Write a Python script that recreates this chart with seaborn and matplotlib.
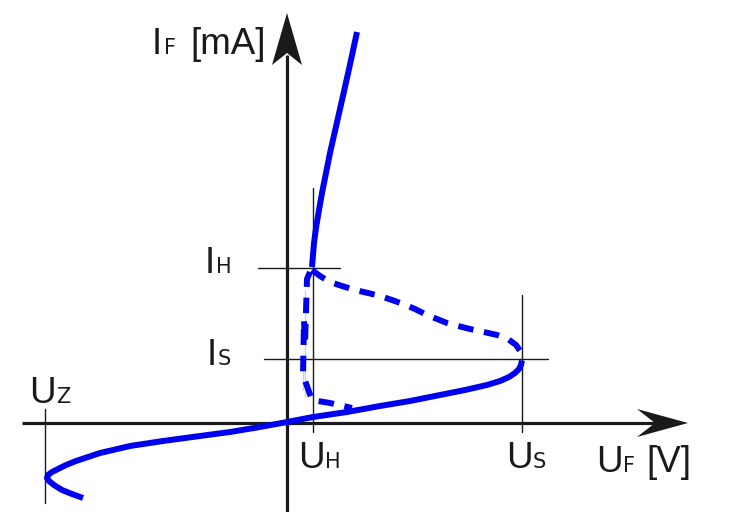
import numpy as np
import pandas as pd
import seaborn as sns
import matplotlib.pyplot as plt

# ---- data (U: voltage axis units, I: current axis units; origin at axis crossing) ----
lower_U = [-204, -215, -225, -233, -238, -240, -239, -235, -229, -221, -211, -199, -187,
           -174, -157, -124, -87, -57, -27, 0, 26, 60, 93, 123, 153, 178, 200, 213, 222,
           228, 232, 234, 235, 235]
lower_I = [-75, -71, -67, -62, -58, -55, -52, -49, -46, -42, -38, -34, -30,
           -27, -23, -18, -13, -9, -4, 1, 6, 11, 17, 22, 28, 33, 38, 42, 46,
           50, 54, 58, 61, 64]

upper_U = [25, 26, 27, 29, 32, 35, 39, 43, 48, 53, 58, 64, 70]
upper_I = [156, 168, 180, 195, 213, 230, 250, 270, 292, 314, 336, 363, 391]

dash_top_U = [25, 33, 43, 55, 68, 81, 93, 105, 116, 128, 140, 150, 160, 171, 183, 197,
              210, 221, 229, 234, 236]
dash_top_I = [153, 147, 141, 137, 133, 130, 127, 123, 119, 114, 108, 104, 100, 97, 94, 91,
              88, 84, 78, 71, 65]

dash_left_U = [23, 20, 18, 17, 16, 16, 18, 25, 43, 65]
dash_left_I = [151, 144, 133, 103, 63, 33, 26, 23, 20, 15]

U_H, U_S, U_Z = 26, 235, -242
I_H, I_S = 155, 64

BLUE = "#0000f0"

sns.set_theme(style="white")
plt.rcParams["font.family"] = ["Liberation Sans", "DejaVu Sans"]

fig = plt.figure(figsize=(7.31, 5.12), dpi=100)
ax = fig.add_axes([0, 0, 1, 1])
ax.set_xlim(-287, 444)
ax.set_ylim(-89, 423)
ax.axis("off")

# ---- axes with notched arrow heads ----
X_START, X_TIP = -265, 401
Y_START, Y_TIP = -89, 410
ax.plot([X_START, X_TIP - 31], [0, 0], color="k", lw=2.3, solid_capstyle="butt")
ax.plot([0, 0], [Y_START, Y_TIP - 42], color="k", lw=2.3, solid_capstyle="butt")
ax.fill([X_TIP, X_TIP - 51, X_TIP - 33, X_TIP - 51], [0, 14, 0, -14], color="k", lw=0)
ax.fill([0, -15, 0, 15], [Y_TIP, Y_TIP - 52, Y_TIP - 40, Y_TIP - 52], color="k", lw=0)

# ---- reference (tick) lines ----
thin = dict(color="k", lw=1.0)
ax.plot([U_H, U_H], [-9, 235], **thin)
ax.plot([-29, 53], [I_H, I_H], **thin)
ax.plot([U_S, U_S], [-9, 128], **thin)
ax.plot([-23, 261], [I_S, I_S], **thin)
ax.plot([U_Z, U_Z], [-80, 14], **thin)

# ---- characteristic curves ----
lw = 4.3
sns.lineplot(x=lower_U, y=lower_I, sort=False, ax=ax, color=BLUE, lw=lw,
             solid_capstyle="butt", solid_joinstyle="round")
sns.lineplot(x=upper_U, y=upper_I, sort=False, ax=ax, color=BLUE, lw=lw,
             solid_capstyle="butt", solid_joinstyle="round")
sns.lineplot(x=dash_top_U, y=dash_top_I, sort=False, ax=ax, color=BLUE, lw=lw,
             linestyle=(0, (2.6, 1.8)))
sns.lineplot(x=dash_left_U, y=dash_left_I, sort=False, ax=ax, color=BLUE, lw=lw,
             linestyle=(0, (2.6, 1.8)))

# ---- labels ----
BIG, SMALL = 26.5, 15
def big(x, y, s):
    ax.text(x, y, s, fontsize=BIG, ha="left", va="baseline", color="k")

def sub(x, y, s):
    ax.text(x, y, s, fontsize=SMALL, ha="left", va="baseline", color="k",
            family=["DejaVu Sans"])

big(-135, 369, "I"); sub(-123, 369, "F"); big(-97, 369, "[mA]")
big(-82, 150, "I"); sub(-71, 150, "H")
big(-80, 58, "I"); sub(-69, 58, "S")
big(-258, 20, "U"); sub(-231, 20, "Z")
big(11, -45, "U"); sub(38, -45, "H")
big(219, -45, "U"); sub(246, -45, "S")
big(309, -49, "U"); sub(336, -49, "F"); big(359, -49, "[V]")

fig.savefig("out.png", dpi=100)
